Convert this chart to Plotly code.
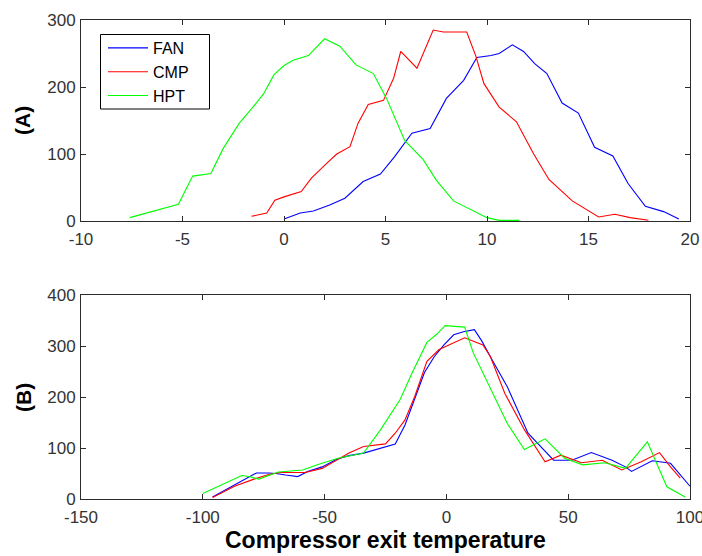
import plotly.graph_objects as go
from plotly.subplots import make_subplots

# ---- Panel A data ----
fan_a_x = [0.0, 0.8, 1.45, 2.25, 3.0, 3.9, 4.75, 5.45, 6.3, 7.2, 8.0, 8.85, 9.5, 10.2, 10.6,
           11.25, 11.8, 12.35, 12.95, 13.7, 14.5, 15.3, 16.2, 16.95, 17.8, 18.7, 19.45]
fan_a_y = [3, 12, 15, 24, 34, 59, 70, 96, 131, 138, 183, 210, 244, 247, 250,
           263, 253, 235, 220, 176, 161, 110, 97, 56, 22, 14, 3]

cmp_a_x = [-1.6, -0.85, -0.45, 0.0, 0.85, 1.35, 2.1, 2.6, 3.25, 3.65, 4.15, 4.9, 5.4, 5.75,
           6.55, 7.35, 7.85, 9.0, 9.45, 9.85, 10.6, 11.45, 12.3, 13.05, 14.2, 15.5, 16.3, 17.05, 17.95]
cmp_a_y = [7, 12, 31, 36, 44, 64, 86, 100, 111, 146, 174, 180, 213, 253,
           228, 285, 282, 282, 246, 205, 170, 148, 100, 62, 30, 6, 10, 5, 1]

hpt_a_x = [-7.6, -5.2, -4.5, -3.6, -3.0, -2.2, -1.5, -1.0, -0.5, 0.0, 0.45, 1.2, 2.0, 2.75,
           3.55, 4.4, 5.05, 5.95, 6.85, 7.5, 8.35, 10.0, 10.6, 11.6]
hpt_a_y = [5, 25, 67, 71, 108, 146, 171, 190, 218, 232, 240, 247, 272, 261,
           233, 220, 183, 120, 92, 61, 30, 5, 1, 1]

# ---- Panel B data ----
fan_b_x = [-96, -81, -78, -73, -70, -66, -61, -57, -51, -45, -40, -34, -27, -21, -17, -13, -9,
           -5, -1, 3, 7, 11.5, 14.5, 18.5, 25, 33.5, 42, 44, 51.5, 59.5, 68, 73.5, 76, 84.5,
           92, 96, 100]
fan_b_y = [4, 43, 51, 51, 50, 47, 44, 54, 63, 78, 85, 90, 99, 108, 145, 195, 248,
           279, 302, 322, 328, 332, 310, 275, 220, 129, 86, 76, 76, 91, 76, 63, 54, 75,
           70, 47, 25]

cmp_b_x = [-96, -87, -79, -73, -68, -58, -51, -45, -40, -34, -25, -21, -17, -13, -8, -3, 1,
           7.5, 15, 18, 24, 32, 40.5, 47, 55.5, 64, 72, 80, 87.5, 92, 96]
cmp_b_y = [3, 25, 39, 48, 52, 52, 60, 77, 90, 103, 108, 129, 155, 201, 270, 293, 302,
           316, 302, 280, 207, 136, 73, 86, 71, 76, 57, 73, 91, 63, 41]

hpt_b_x = [-100, -84, -81, -77, -69, -59, -53, -44.5, -34, -27, -19, -14, -8, -4, -0.5, 3.5,
           7.5, 11, 19, 25, 32, 40.5, 48.5, 56, 65, 73.5, 82.5, 90.5, 98]
hpt_b_y = [11, 46, 44, 39, 53, 57, 67, 80, 90, 136, 195, 248, 307, 323, 340, 339,
           337, 287, 207, 148, 97, 118, 80, 67, 71, 60, 112, 24, 4]

series_names = ["FAN", "CMP", "HPT"]
colors = ["#0000ff", "#ff0000", "#00ff00"]

xa_ticks = [-10, -5, 0, 5, 10, 15, 20]
xa_labels = ["-10", "-5", "0", "5", "10", "15", "20"]
ya_ticks = [0, 100, 200, 300]
ya_labels = ["0", "100", "200", "300"]
xb_ticks = [-150, -100, -50, 0, 50, 100]
xb_labels = ["-150", "-100", "-50", "0", "50", "100"]
yb_ticks = [0, 100, 200, 300, 400]
yb_labels = ["0", "100", "200", "300", "400"]

# pixel layout helpers
W, H = 702, 556
L, R, T, B = 81, 12, 20, 57
PW, PH = W - L - R, H - T - B


def px_x(px):
    return (px - L) / PW


def px_y(py):
    return (H - B - py) / PH


fig = make_subplots(rows=2, cols=1, vertical_spacing=0.0)

a_data = [(fan_a_x, fan_a_y), (cmp_a_x, cmp_a_y), (hpt_a_x, hpt_a_y)]
b_data = [(fan_b_x, fan_b_y), (cmp_b_x, cmp_b_y), (hpt_b_x, hpt_b_y)]

for name, col, (x, y) in zip(series_names, colors, a_data):
    fig.add_trace(go.Scatter(x=x, y=y, mode="lines", name=name,
                             line=dict(color=col, width=1.1)), row=1, col=1)
for name, col, (x, y) in zip(series_names, colors, b_data):
    fig.add_trace(go.Scatter(x=x, y=y, mode="lines", name=name, showlegend=False,
                             line=dict(color=col, width=1.1)), row=2, col=1)

axis_common = dict(showline=True, mirror="ticks", linecolor="#2b2b2b", linewidth=1,
                   ticks="inside", ticklen=5, tickcolor="#2b2b2b", showgrid=False,
                   zeroline=False, automargin=False, ticklabeloverflow="allow",
                   tickfont=dict(family="Liberation Sans, Arial", size=17, color="#333333"))

fig.update_xaxes(**axis_common, ticklabelstandoff=3)
fig.update_yaxes(**axis_common, ticklabelstandoff=1)

fig.update_layout(
    xaxis=dict(domain=[0, 1], range=[-10, 20], tickvals=xa_ticks, ticktext=xa_labels,
               anchor="y"),
    yaxis=dict(domain=[px_y(221), 1.0], range=[0, 300], tickvals=ya_ticks,
               ticktext=ya_labels, anchor="x"),
    xaxis2=dict(domain=[0, 1], range=[-150, 100], tickvals=xb_ticks, ticktext=xb_labels,
                anchor="y2"),
    yaxis2=dict(domain=[0, px_y(295)], range=[0, 400], tickvals=yb_ticks,
                ticktext=yb_labels, anchor="x2"),
)

fig.update_layout(
    width=W, height=H,
    autosize=False,
    margin=dict(l=L, r=R, t=T, b=B, pad=0),
    paper_bgcolor="white", plot_bgcolor="white",
    font=dict(family="Liberation Sans, Arial", color="#000000"),
    showlegend=True,
    legend=dict(x=px_x(103), y=px_y(31), xanchor="left", yanchor="top",
                borderwidth=0, bgcolor="rgba(0,0,0,0)",
                font=dict(size=16, color="#000000"), tracegroupgap=0,
                itemwidth=40),
    shapes=[
        dict(type="rect", xref="paper", yref="paper",
             x0=px_x(100.5), x1=px_x(209.5), y0=px_y(109), y1=px_y(34.5),
             line=dict(color="#000000", width=1), fillcolor="rgba(0,0,0,0)", layer="above"),
    ],
    annotations=[
        dict(text="<b>(A)</b>", x=px_x(23), y=px_y(121), xref="paper", yref="paper",
             xanchor="center", yanchor="middle",
             showarrow=False, textangle=-90, font=dict(size=21, color="#000000")),
        dict(text="<b>(B)</b>", x=px_x(23), y=px_y(398), xref="paper", yref="paper",
             xanchor="center", yanchor="middle",
             showarrow=False, textangle=-90, font=dict(size=21, color="#000000")),
        dict(text="<b>Compressor exit temperature</b>", x=0.5, y=px_y(540), xref="paper",
             yref="paper", xanchor="center", yanchor="middle",
             showarrow=False, font=dict(size=23, color="#000000")),
    ],
)

fig.write_html("out.html", config={"displayModeBar": False},
               post_script="document.body.style.margin='0';document.body.style.overflow='hidden';")
